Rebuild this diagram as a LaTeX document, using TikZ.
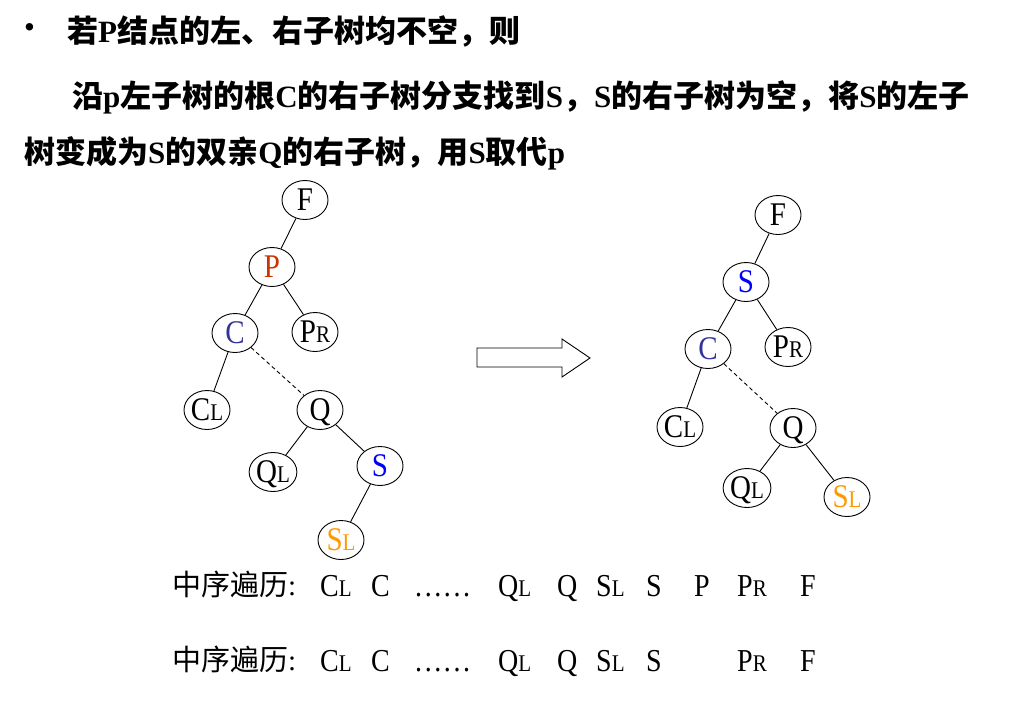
\documentclass[tikz,border=0pt]{standalone}
\usepackage{fontspec}
\usepackage{graphicx}
\setmainfont{Liberation Serif}
\newfontfamily\cjk{Noto Sans CJK SC}
\usetikzlibrary{shapes.geometric}
\definecolor{pred}{RGB}{204,51,0}
\definecolor{cblue}{RGB}{51,51,153}
\definecolor{sblue}{RGB}{0,0,255}
\definecolor{sorange}{RGB}{255,153,0}
\newcommand\zh[1]{{\cjk\bfseries #1}}
\newcommand\lb[1]{{\bfseries #1}}
\newcommand\sbx[1]{{\fontsize{21}{21}\selectfont #1}}
\newcommand\st[1]{\scalebox{1}[1.14]{#1}}
\newcommand\mydots{.\kern2.6pt.\kern2.6pt.\kern2.6pt.\kern2.6pt.\kern2.6pt.}
\tikzset{
  tn/.style={draw, ellipse, line width=0.9pt, minimum width=46pt, minimum height=39pt, inner sep=0pt, text height=21pt, text depth=0pt, font=\fontsize{29}{29}\selectfont},
  edge/.style={line width=0.9pt},
  dedge/.style={line width=0.9pt, dash pattern=on 4pt off 3pt},
  head/.style={anchor=west, inner sep=0pt, font=\fontsize{31}{31}\selectfont},
  trav/.style={anchor=base west, inner sep=0pt, font=\fontsize{28}{28}\selectfont},
}
\begin{document}
\begin{tikzpicture}[x=1pt,y=1pt]
\useasboundingbox (0,0) rectangle (1024,-705);
% header
\node[head] (bul) at (24,-31) {•};
\node[head] (h1) at (67,-31) {\zh{若}\lb{P}\zh{结点的左、右子树均不空，则}};
\node[head] (h2) at (72,-97) {\zh{沿}\lb{p}\zh{左子树的根}\lb{C}\zh{的右子树分支找到}\lb{S}\zh{，}\lb{S}\zh{的右子树为空，将}\lb{S}\zh{的左子}};
\node[head] (h3) at (24,-153) {\zh{树变成为}\lb{S}\zh{的双亲}\lb{Q}\zh{的右子树，用}\lb{S}\zh{取代}\lb{p}};
% left tree
\node[tn] (F1) at (305,-200) {\st{F}};
\node[tn, text=pred] (P1) at (272,-267) {\st{P}};
\node[tn, text=cblue] (C1) at (235,-333) {\st{C}};
\node[tn] (PR1) at (315,-332) {\st{P\sbx{R}}};
\node[tn] (CL1) at (207,-410) {\st{C\sbx{L}}};
\node[tn] (Q1) at (320,-410) {\st{Q}};
\node[tn] (QL1) at (273,-472) {\st{Q\sbx{L}}};
\node[tn, text=sblue] (S1) at (380,-466) {\st{S}};
\node[tn, text=sorange] (SL1) at (341,-540) {\st{S\sbx{L}}};
\draw[edge] (F1) -- (P1);
\draw[edge] (P1) -- (C1);
\draw[edge] (P1) -- (PR1);
\draw[edge] (C1) -- (CL1);
\draw[dedge] (C1) -- (Q1);
\draw[edge] (Q1) -- (QL1);
\draw[edge] (Q1) -- (S1);
\draw[edge] (S1) -- (SL1);
% arrow
\draw[line width=0.9pt] (477,-348) -- (562,-348) -- (562,-339) -- (590,-358) -- (562,-377) -- (562,-367) -- (477,-367) -- cycle;
% right tree
\node[tn] (F2) at (778,-215) {\st{F}};
\node[tn, text=sblue] (S2) at (746,-282) {\st{S}};
\node[tn, text=cblue] (C2) at (708,-349) {\st{C}};
\node[tn] (PR2) at (788,-347) {\st{P\sbx{R}}};
\node[tn] (CL2) at (680,-427) {\st{C\sbx{L}}};
\node[tn] (Q2) at (793,-428) {\st{Q}};
\node[tn] (QL2) at (747,-488) {\st{Q\sbx{L}}};
\node[tn, text=sorange] (SL2) at (847,-497) {\st{S\sbx{L}}};
\draw[edge] (F2) -- (S2);
\draw[edge] (S2) -- (C2);
\draw[edge] (S2) -- (PR2);
\draw[edge] (C2) -- (CL2);
\draw[dedge] (C2) -- (Q2);
\draw[edge] (Q2) -- (QL2);
\draw[edge] (Q2) -- (SL2);
% traversals
\foreach \r/\yy in {a/-596, b/-671} {
  \node[trav, font=\fontsize{29}{29}\selectfont] (lab\r) at (172,\yy+1) {{\cjk 中序遍历}:};
  \node[trav] (cl\r) at (320,\yy) {\st{C\sbx{L}}};
  \node[trav] (c\r) at (371,\yy) {\st{C}};
  \node[trav] (dots\r) at (415,\yy) {\st{\mydots}};
  \node[trav] (ql\r) at (498,\yy) {\st{Q\sbx{L}}};
  \node[trav] (q\r) at (557,\yy) {\st{Q}};
  \node[trav] (sl\r) at (596,\yy) {\st{S\sbx{L}}};
  \node[trav] (s\r) at (646,\yy) {\st{S}};
  \node[trav] (pr\r) at (737,\yy) {\st{P\sbx{R}}};
  \node[trav] (f\r) at (800,\yy) {\st{F}};
}
\node[trav] (pa) at (694,-596) {\st{P}};
\end{tikzpicture}
\end{document}
